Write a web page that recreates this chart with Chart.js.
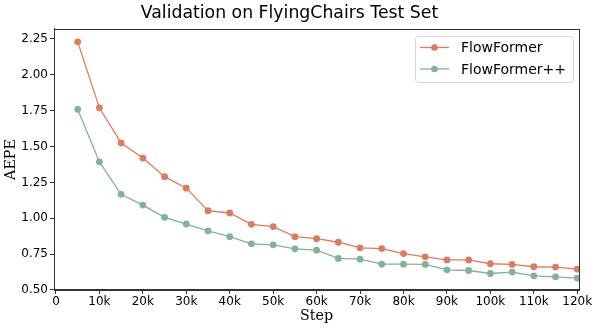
<!DOCTYPE html>
<html>
<head>
<meta charset="utf-8">
<script src="https://cdn.jsdelivr.net/npm/chart.js@4.4.1/dist/chart.umd.min.js"></script>
<style>
  html, body { margin: 0; padding: 0; background: #fff; }
  #caja { width: 598px; height: 330px; }
</style>
</head>
<body>
<div id="caja"><canvas id="grafico"></canvas></div>
<script>
// datos (paso en miles)
const pasos = [5, 10, 15, 20, 25, 30, 35, 40, 45, 50, 55, 60, 65, 70, 75, 80, 85, 90, 95, 100, 105, 110, 115, 120]
const flowFormer = [2.23, 1.77, 1.525, 1.42, 1.29, 1.21, 1.053, 1.037, 0.958, 0.942, 0.872, 0.858, 0.833, 0.794, 0.789, 0.754, 0.731, 0.71, 0.71, 0.683, 0.678, 0.662, 0.66, 0.646]
const flowFormerPP = [1.76, 1.393, 1.167, 1.092, 1.007, 0.96, 0.912, 0.872, 0.822, 0.815, 0.787, 0.778, 0.72, 0.715, 0.68, 0.68, 0.678, 0.641, 0.636, 0.615, 0.625, 0.599, 0.592, 0.583]
const ticksX = [0, 10, 20, 30, 40, 50, 60, 70, 80, 90, 100, 110, 120]
const ticksY = [0.5, 0.75, 1.0, 1.25, 1.5, 1.75, 2.0, 2.25]

const naranja = '#e07a5f'
const verde = '#81b29a'
const fuenteSans = 'DejaVu Sans'
const fuenteSerif = 'DejaVu Serif'

// marco completo alrededor del area del grafico
const marcoPlugin = {
    id: 'marco',
    afterDraw(chart) {
        const { ctx, chartArea: a } = chart
        ctx.save()
        ctx.strokeStyle = '#333'
        ctx.lineWidth = 1
        ctx.strokeRect(Math.round(a.left) + 0.5, Math.round(a.top) + 0.5, Math.round(a.right - a.left), Math.round(a.bottom - a.top))
        ctx.restore()
    }
}

// leyenda con caja, estilo matplotlib
const leyendaPlugin = {
    id: 'leyendaCaja',
    afterDraw(chart) {
        const { ctx, chartArea: a } = chart
        const sets = chart.data.datasets
        const derecha = a.right - 6
        const arriba = a.top + 7
        const ancho = 158
        const alto = 46
        const izq = derecha - ancho
        ctx.save()
        ctx.beginPath()
        ctx.roundRect(izq + 0.5, arriba + 0.5, ancho, alto, 3)
        ctx.fillStyle = 'rgba(255,255,255,0.85)'
        ctx.fill()
        ctx.strokeStyle = '#d6d6d6'
        ctx.lineWidth = 1
        ctx.stroke()
        ctx.font = '14px "' + fuenteSans + '"'
        ctx.textBaseline = 'middle'
        sets.forEach((ds, i) => {
            const y = arriba + 11.5 + i * 21.5
            ctx.strokeStyle = ds.borderColor
            ctx.lineWidth = 1.3
            ctx.beginPath()
            ctx.moveTo(izq + 5, y)
            ctx.lineTo(izq + 34, y)
            ctx.stroke()
            ctx.fillStyle = ds.pointBackgroundColor
            ctx.beginPath()
            ctx.arc(izq + 19.5, y, 3.3, 0, Math.PI * 2)
            ctx.fill()
            ctx.fillStyle = '#000'
            ctx.fillText(ds.label, izq + 46, y + 1)
        })
        ctx.restore()
    }
}

new Chart(document.getElementById('grafico'), {
    type: 'line',
    data: {
        datasets: [{
            label: 'FlowFormer',
            data: pasos.map((p, i) => ({ x: p, y: flowFormer[i] })),
            borderColor: naranja,
            backgroundColor: naranja,
            pointBackgroundColor: naranja,
            pointBorderWidth: 0,
            pointRadius: 3.4,
            borderWidth: 1.3,
            fill: false
        }, {
            label: 'FlowFormer++',
            data: pasos.map((p, i) => ({ x: p, y: flowFormerPP[i] })),
            borderColor: verde,
            backgroundColor: verde,
            pointBackgroundColor: verde,
            pointBorderWidth: 0,
            pointRadius: 3.4,
            borderWidth: 1.3,
            fill: false
        }]
    },
    options: {
        responsive: true,
        maintainAspectRatio: false,
        animation: false,
        layout: { padding: { left: 0, right: 19, top: 0, bottom: 0 } },
        plugins: {
            legend: { display: false },
            tooltip: { enabled: false },
            title: {
                display: true,
                text: 'Validation on FlyingChairs Test Set',
                color: '#000',
                font: { family: fuenteSans, size: 17.3, weight: 'normal' },
                padding: { top: 3, bottom: 5.2 }
            }
        },
        scales: {
            x: {
                type: 'linear',
                min: -0.45,
                max: 120.4,
                afterBuildTicks: (scale) => { scale.ticks = ticksX.map(v => ({ value: v })) },
                afterFit: (scale) => { scale.height = 40 },
                grid: { drawOnChartArea: false, drawTicks: true, tickLength: 4, color: '#333' },
                border: { color: '#333' },
                ticks: {
                    color: '#000',
                    padding: 1,
                    maxRotation: 0,
                    autoSkip: false,
                    font: { family: fuenteSans, size: 12 },
                    callback: (v) => v === 0 ? '0' : v + 'k'
                },
                title: {
                    display: true,
                    text: 'Step',
                    color: '#000',
                    font: { family: fuenteSerif, size: 14.3 },
                    padding: { top: 0, bottom: 5 }
                }
            },
            y: {
                min: 0.5,
                max: 2.32,
                afterBuildTicks: (scale) => { scale.ticks = ticksY.map(v => ({ value: v })) },
                afterFit: (scale) => { scale.width = 54 },
                grid: { drawOnChartArea: false, drawTicks: true, tickLength: 4, color: '#333' },
                border: { color: '#333' },
                ticks: {
                    color: '#000',
                    padding: 2,
                    font: { family: fuenteSans, size: 12 },
                    callback: (v) => v.toFixed(2)
                },
                title: {
                    display: true,
                    text: 'AEPE',
                    color: '#000',
                    font: { family: fuenteSerif, size: 14.3 },
                    padding: { top: 3, bottom: 0 }
                }
            }
        }
    },
    plugins: [marcoPlugin, leyendaPlugin]
})
</script>
</body>
</html>
